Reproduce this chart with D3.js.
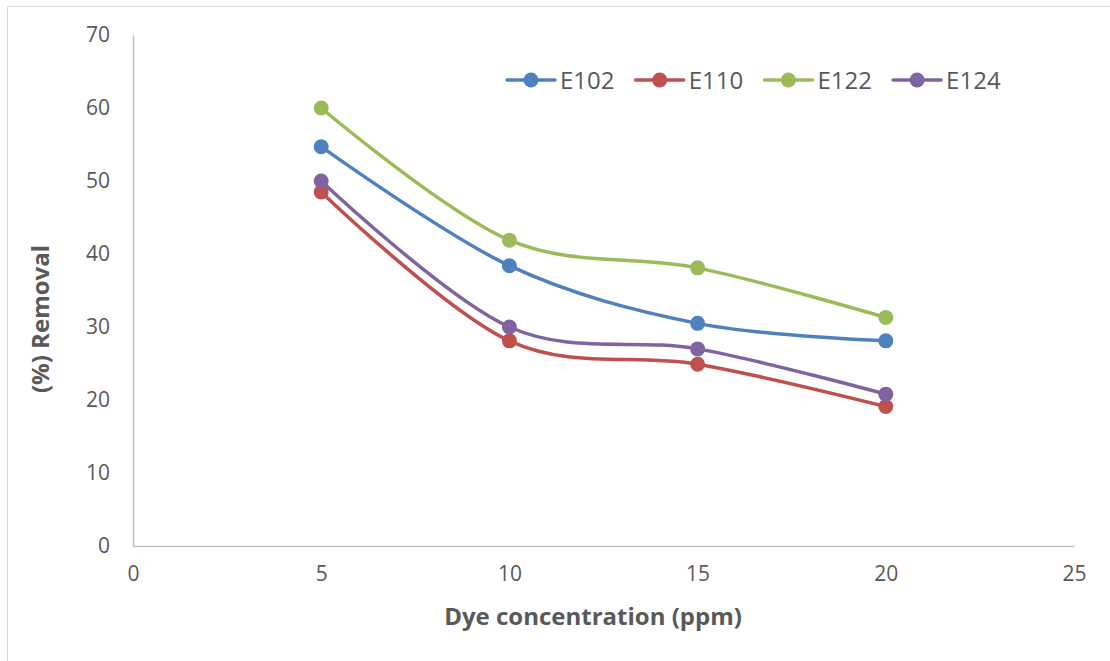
<!DOCTYPE html>
<html>
<head>
<meta charset="utf-8">
<script src="https://cdn.jsdelivr.net/npm/d3@7"></script>
<style>
  html, body { margin: 0; padding: 0; background: #fff; overflow: hidden; }
  svg { display: block; font-family: 'Open Sans', 'Liberation Sans', sans-serif; }
</style>
</head>
<body>
<svg id="chart"></svg>
<script>
// chart data
const concentrations = [5, 10, 15, 20];
const seriesNames = ['E102', 'E110', 'E122', 'E124'];
const e102 = [54.7, 38.4, 30.5, 28.1];
const e110 = [48.5, 28.1, 24.9, 19.1];
const e122 = [60.0, 41.9, 38.1, 31.3];
const e124 = [50.0, 30.0, 27.0, 20.8];
const xTicks = [0, 5, 10, 15, 20, 25];
const yTicks = [0, 10, 20, 30, 40, 50, 60, 70];

const seriesValues = [e102, e110, e122, e124];
const colors = ['#4f81bd', '#c0504d', '#9bbb59', '#8064a2'];
const fontFamily = "'Open Sans', 'Liberation Sans', sans-serif";

const width = 1110, height = 661;
const margin = { top: 35, right: 36, bottom: 115, left: 133 };
const innerWidth = width - margin.left - margin.right;
const innerHeight = height - margin.top - margin.bottom;

const svg = d3.select('#chart')
  .attr('width', width)
  .attr('height', height);

// outer chart border: only left and top edges are inside the picture
svg.append('path')
  .attr('d', `M7.5,${height} V6.5 H${width}`)
  .attr('fill', 'none')
  .attr('stroke', '#d9d9d9');

const g = svg.append('g')
  .attr('transform', `translate(${margin.left},${margin.top})`);

const x = d3.scaleLinear().domain([0, 25]).range([0, innerWidth]);
const y = d3.scaleLinear().domain([0, 70]).range([innerHeight, 0]);

// axes
const xAxis = g.append('g')
  .attr('transform', `translate(0,${innerHeight})`)
  .call(d3.axisBottom(x).tickValues(xTicks).tickSize(0).tickPadding(20));
const yAxis = g.append('g')
  .call(d3.axisLeft(y).tickValues(yTicks).tickSize(0).tickPadding(23));

[xAxis, yAxis].forEach(ax => {
  ax.attr('font-family', fontFamily).attr('font-size', 21);
  ax.select('.domain').attr('stroke', '#bfbfbf').attr('stroke-width', 1.5);
  ax.selectAll('text').attr('fill', '#595959');
});

// lines
const line = d3.line()
  .x((d, i) => x(concentrations[i]))
  .y(d => y(d))
  .curve(d3.curveCatmullRom.alpha(0));

seriesValues.forEach((vals, s) => {
  g.append('path')
    .datum(vals)
    .attr('fill', 'none')
    .attr('stroke', colors[s])
    .attr('stroke-width', 3.5)
    .attr('stroke-linecap', 'round')
    .attr('d', line);

  g.selectAll(`.dot-${s}`)
    .data(vals)
    .enter()
    .append('circle')
    .attr('class', `dot-${s}`)
    .attr('cx', (d, i) => x(concentrations[i]))
    .attr('cy', d => y(d))
    .attr('r', 7.5)
    .attr('fill', colors[s]);
});

// legend
const legend = svg.append('g').attr('transform', 'translate(507,80)');
const legendStep = 128.7;
seriesNames.forEach((name, s) => {
  const lg = legend.append('g').attr('transform', `translate(${s * legendStep},0)`);
  lg.append('line')
    .attr('x1', 0).attr('x2', 48)
    .attr('stroke', colors[s])
    .attr('stroke-width', 3.5)
    .attr('stroke-linecap', 'round');
  lg.append('circle')
    .attr('cx', 24).attr('r', 7.5)
    .attr('fill', colors[s]);
  lg.append('text')
    .attr('x', 53).attr('y', 0)
    .attr('dy', '0.36em')
    .attr('fill', '#595959')
    .style('font-size', '24px')
    .text(name);
});

// axis titles
svg.append('text')
  .attr('x', 593)
  .attr('y', 625)
  .attr('text-anchor', 'middle')
  .attr('fill', '#595959')
  .style('font-size', '24px')
  .style('font-weight', 'bold')
  .text('Dye concentration (ppm)');

svg.append('text')
  .attr('transform', 'rotate(-90)')
  .attr('x', -319)
  .attr('y', 49)
  .attr('text-anchor', 'middle')
  .attr('fill', '#595959')
  .style('font-size', '24px')
  .style('font-weight', 'bold')
  .text('(%) Removal');
</script>
</body>
</html>
